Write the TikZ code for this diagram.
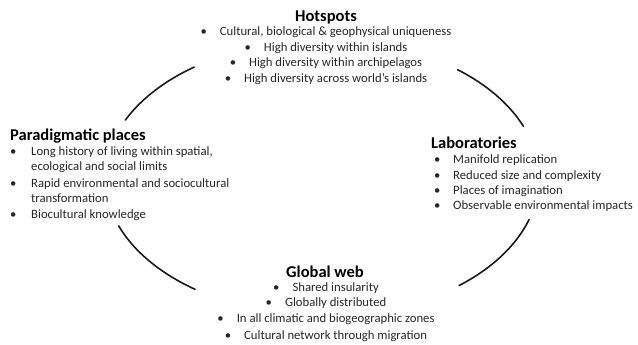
\documentclass[tikz,border=0pt]{standalone}
\usepackage{fontspec}
\setmainfont{Carlito}
\usetikzlibrary{calc}
\begin{document}
\begin{tikzpicture}[x=1pt,y=-1pt,
  ttl/.style={font=\fontsize{16.5}{18}\selectfont\bfseries, inner sep=0pt, text=black},
  itm/.style={font=\fontsize{12.7}{14}\selectfont, inner sep=0pt, text=black!85},
  arcline/.style={line width=1.6pt, line cap=round, black!90}]
\useasboundingbox (0,0) rectangle (638,345);
\newcommand\bul{\textbullet\hspace{13pt}}
\newcommand\lbul[1]{\makebox[#1][l]{\textbullet}}
% Hotspots
\node[ttl, anchor=base] (hot) at (326,22) {Hotspots};
\node[itm, anchor=base] (hot1) at (326,35.5) {\bul Cultural, biological \& geophysical uniqueness};
\node[itm, anchor=base] (hot2) at (326,51.5) {\bul High diversity within islands};
\node[itm, anchor=base] (hot3) at (326,66.5) {\bul High diversity within archipelagos};
\node[itm, anchor=base] (hot4) at (326,82.5) {\bul High diversity across world’s islands};
% Paradigmatic places
\node[ttl, anchor=base west] (par) at (10,140) {Paradigmatic places};
\node[itm, anchor=base west] (par1) at (10,155.5) {\lbul{21pt}Long history of living within spatial,};
\node[itm, anchor=base west] (par1b) at (31,170.5) {ecological and social limits};
\node[itm, anchor=base west] (par2) at (10,187.5) {\lbul{21pt}Rapid environmental and sociocultural};
\node[itm, anchor=base west] (par2b) at (31,202.5) {transformation};
\node[itm, anchor=base west] (par3) at (10,218.5) {\lbul{21pt}Biocultural knowledge};
% Laboratories
\node[ttl, anchor=base west] (lab) at (431,148) {Laboratories};
\node[itm, anchor=base west] (lab1) at (434,163.5) {\lbul{19pt}Manifold replication};
\node[itm, anchor=base west] (lab2) at (434,179) {\lbul{19pt}Reduced size and complexity};
\node[itm, anchor=base west] (lab3) at (434,194.5) {\lbul{19pt}Places of imagination};
\node[itm, anchor=base west] (lab4) at (434,209.5) {\lbul{19pt}Observable environmental impacts};
% Global web
\node[ttl, anchor=base] (glo) at (325,277) {Global web};
\node[itm, anchor=base] (glo1) at (326,291.5) {\bul Shared insularity};
\node[itm, anchor=base] (glo2) at (326,306.5) {\bul Globally distributed};
\node[itm, anchor=base] (glo3) at (326,322.5) {\bul In all climatic and biogeographic zones};
\node[itm, anchor=base] (glo4) at (326,339.5) {\bul Cultural network through migration};
% arcs
\coordinate (c) at (325,178);
\draw[arcline] ($(c)+(233.5:220 and 138)$) arc[start angle=233.5, end angle=204.8, x radius=220, y radius=138];
\draw[arcline] ($(c)+(159.7:220 and 138)$) arc[start angle=159.7, end angle=126.2, x radius=220, y radius=138];
\draw[arcline] ($(c)+(-51.7:214 and 138)$) arc[start angle=-51.7, end angle=-22, x radius=214, y radius=138];
\draw[arcline] ($(c)+(17.5:214 and 138)$) arc[start angle=17.5, end angle=51.2, x radius=214, y radius=138];
\end{tikzpicture}
\end{document}
